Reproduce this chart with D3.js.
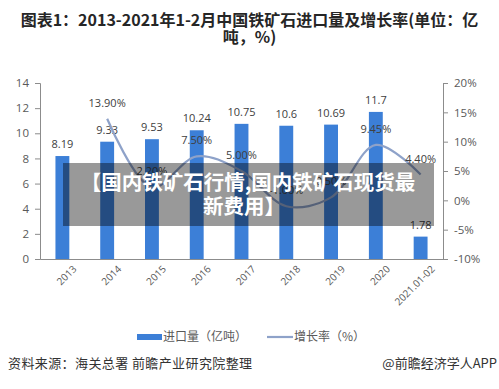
<!DOCTYPE html>
<html>
<head>
<meta charset="utf-8">
<script src="https://cdn.jsdelivr.net/npm/d3@7/dist/d3.min.js"></script>
<style>
  body { margin: 0; background: #fff; }
  svg { display: block; font-family: "Noto Sans CJK SC", "Microsoft YaHei", sans-serif; }
</style>
</head>
<body>
<div id="chart"></div>
<script>
var years = ["2013", "2014", "2015", "2016", "2017", "2018", "2019", "2020", "2021.01-02"];
var imports = [8.19, 9.33, 9.53, 10.24, 10.75, 10.6, 10.69, 11.7, 1.78];
var growth = [null, 13.9, 2.2, 7.5, 5.0, -1.0, 0.5, 9.45, 4.4];
var leftTicks = [0, 2, 4, 6, 8, 10, 12, 14];
var rightTicks = [-10, -5, 0, 5, 10, 15, 20];

var W = 499, H = 389;

var svg = d3.select("#chart").append("svg")
  .attr("width", W)
  .attr("height", H);

// title
svg.append("text")
  .attr("x", W / 2).attr("y", 26)
  .attr("text-anchor", "middle")
  .attr("font-size", "16px").attr("font-weight", "bold").attr("fill", "#262626")
  .text("图表1：2013-2021年1-2月中国铁矿石进口量及增长率(单位：亿");
svg.append("text")
  .attr("x", W / 2).attr("y", 43)
  .attr("text-anchor", "middle")
  .attr("font-size", "16px").attr("font-weight", "bold").attr("fill", "#262626")
  .text("吨，%)");

var x = d3.scaleBand().domain(years).range([40, 443]).paddingInner(0.69).paddingOuter(0.345);
var yL = d3.scaleLinear().domain([0, 14]).range([259, 83]);
var yR = d3.scaleLinear().domain([-10, 20]).range([259, 83]);

// axes
var axL = svg.append("g")
  .attr("transform", "translate(40,0)")
  .call(d3.axisLeft(yL).tickValues(leftTicks).tickSize(5).tickPadding(6));
var axR = svg.append("g")
  .attr("transform", "translate(443,0)")
  .call(d3.axisRight(yR).tickValues(rightTicks).tickSize(5).tickPadding(6)
    .tickFormat(function(d) { return d + "%"; }));
var axB = svg.append("g")
  .attr("transform", "translate(0,259)")
  .call(d3.axisBottom(x).tickSize(0).tickPadding(12));

[axL, axR, axB].forEach(function(g) {
  g.selectAll("path, line").attr("stroke", "#8c8c8c");
  g.selectAll("text").attr("fill", "#595959").attr("font-size", "11.5px")
    .attr("font-family", "'Open Sans', 'DejaVu Sans', sans-serif");
});
axB.selectAll("text")
  .attr("font-size", "10px")
  .attr("text-anchor", "end")
  .attr("dx", "0.3em").attr("dy", "0.6em")
  .attr("transform", "rotate(-45)");

// bars
svg.selectAll("rect.bar")
  .data(imports)
  .enter()
  .append("rect")
  .attr("class", "bar")
  .attr("x", function(d, i) { return x(years[i]); })
  .attr("width", x.bandwidth())
  .attr("y", function(d) { return yL(d); })
  .attr("height", function(d) { return 259 - yL(d); })
  .attr("fill", "#3c7fd7");

svg.selectAll("text.val")
  .data(imports)
  .enter()
  .append("text")
  .attr("class", "val")
  .attr("x", function(d, i) { return x(years[i]) + x.bandwidth() / 2; })
  .attr("y", function(d) { return yL(d) - 8; })
  .attr("text-anchor", "middle")
  .attr("font-size", "11px").attr("fill", "#404040")
  .attr("font-family", "'Open Sans', 'DejaVu Sans', sans-serif")
  .text(function(d) { return d; });

// growth line
var pts = growth.map(function(d, i) { return { k: years[i], v: d }; })
  .filter(function(d) { return d.v !== null; });

var line = d3.line()
  .x(function(d) { return x(d.k) + x.bandwidth() / 2; })
  .y(function(d) { return yR(d.v); })
  .curve(d3.curveCatmullRom.alpha(0.5));

svg.append("path")
  .datum(pts)
  .attr("d", line)
  .attr("fill", "none")
  .attr("stroke", "#8ea2c9")
  .attr("stroke-width", 2.2);

svg.selectAll("text.pct")
  .data(pts)
  .enter()
  .append("text")
  .attr("class", "pct")
  .attr("x", function(d) { return x(d.k) + x.bandwidth() / 2; })
  .attr("y", function(d) { return yR(d.v) - 12; })
  .attr("text-anchor", "middle")
  .attr("font-size", "11px").attr("fill", "#404040")
  .attr("font-family", "'Open Sans', 'DejaVu Sans', sans-serif")
  .text(function(d) { return d.v.toFixed(2) + "%"; });

// overlay banner
svg.append("rect")
  .attr("x", 63).attr("y", 163)
  .attr("width", 371).attr("height", 63)
  .attr("fill", "#000").attr("fill-opacity", 0.4);
svg.append("text")
  .attr("x", 248).attr("y", 190)
  .attr("text-anchor", "middle")
  .attr("font-size", "20.5px").attr("font-weight", "bold").attr("fill", "#fff")
  .text("【国内铁矿石行情,国内铁矿石现货最");
svg.append("text")
  .attr("x", 244).attr("y", 214)
  .attr("text-anchor", "middle")
  .attr("font-size", "20.5px").attr("font-weight", "bold").attr("fill", "#fff")
  .text("新费用】");

// legend
svg.append("rect")
  .attr("x", 137).attr("y", 334)
  .attr("width", 25).attr("height", 6)
  .attr("fill", "#3c7fd7");
svg.append("text")
  .attr("x", 163).attr("y", 341)
  .attr("font-size", "12px").attr("fill", "#595959")
  .text("进口量（亿吨）");
svg.append("line")
  .attr("x1", 267).attr("x2", 293)
  .attr("y1", 337).attr("y2", 337)
  .attr("stroke", "#8ea2c9").attr("stroke-width", 2.2);
svg.append("text")
  .attr("x", 294).attr("y", 341)
  .attr("font-size", "12px").attr("fill", "#595959")
  .text("增长率（%）");

// footer
svg.append("text")
  .attr("x", 8).attr("y", 368)
  .attr("font-size", "13px").attr("fill", "#333")
  .attr("letter-spacing", "0.4px")
  .text("资料来源：海关总署 前瞻产业研究院整理");
svg.append("text")
  .attr("x", 497).attr("y", 368)
  .attr("text-anchor", "end")
  .attr("font-size", "13px").attr("fill", "#333")
  .text("@前瞻经济学人APP");
</script>
</body>
</html>
